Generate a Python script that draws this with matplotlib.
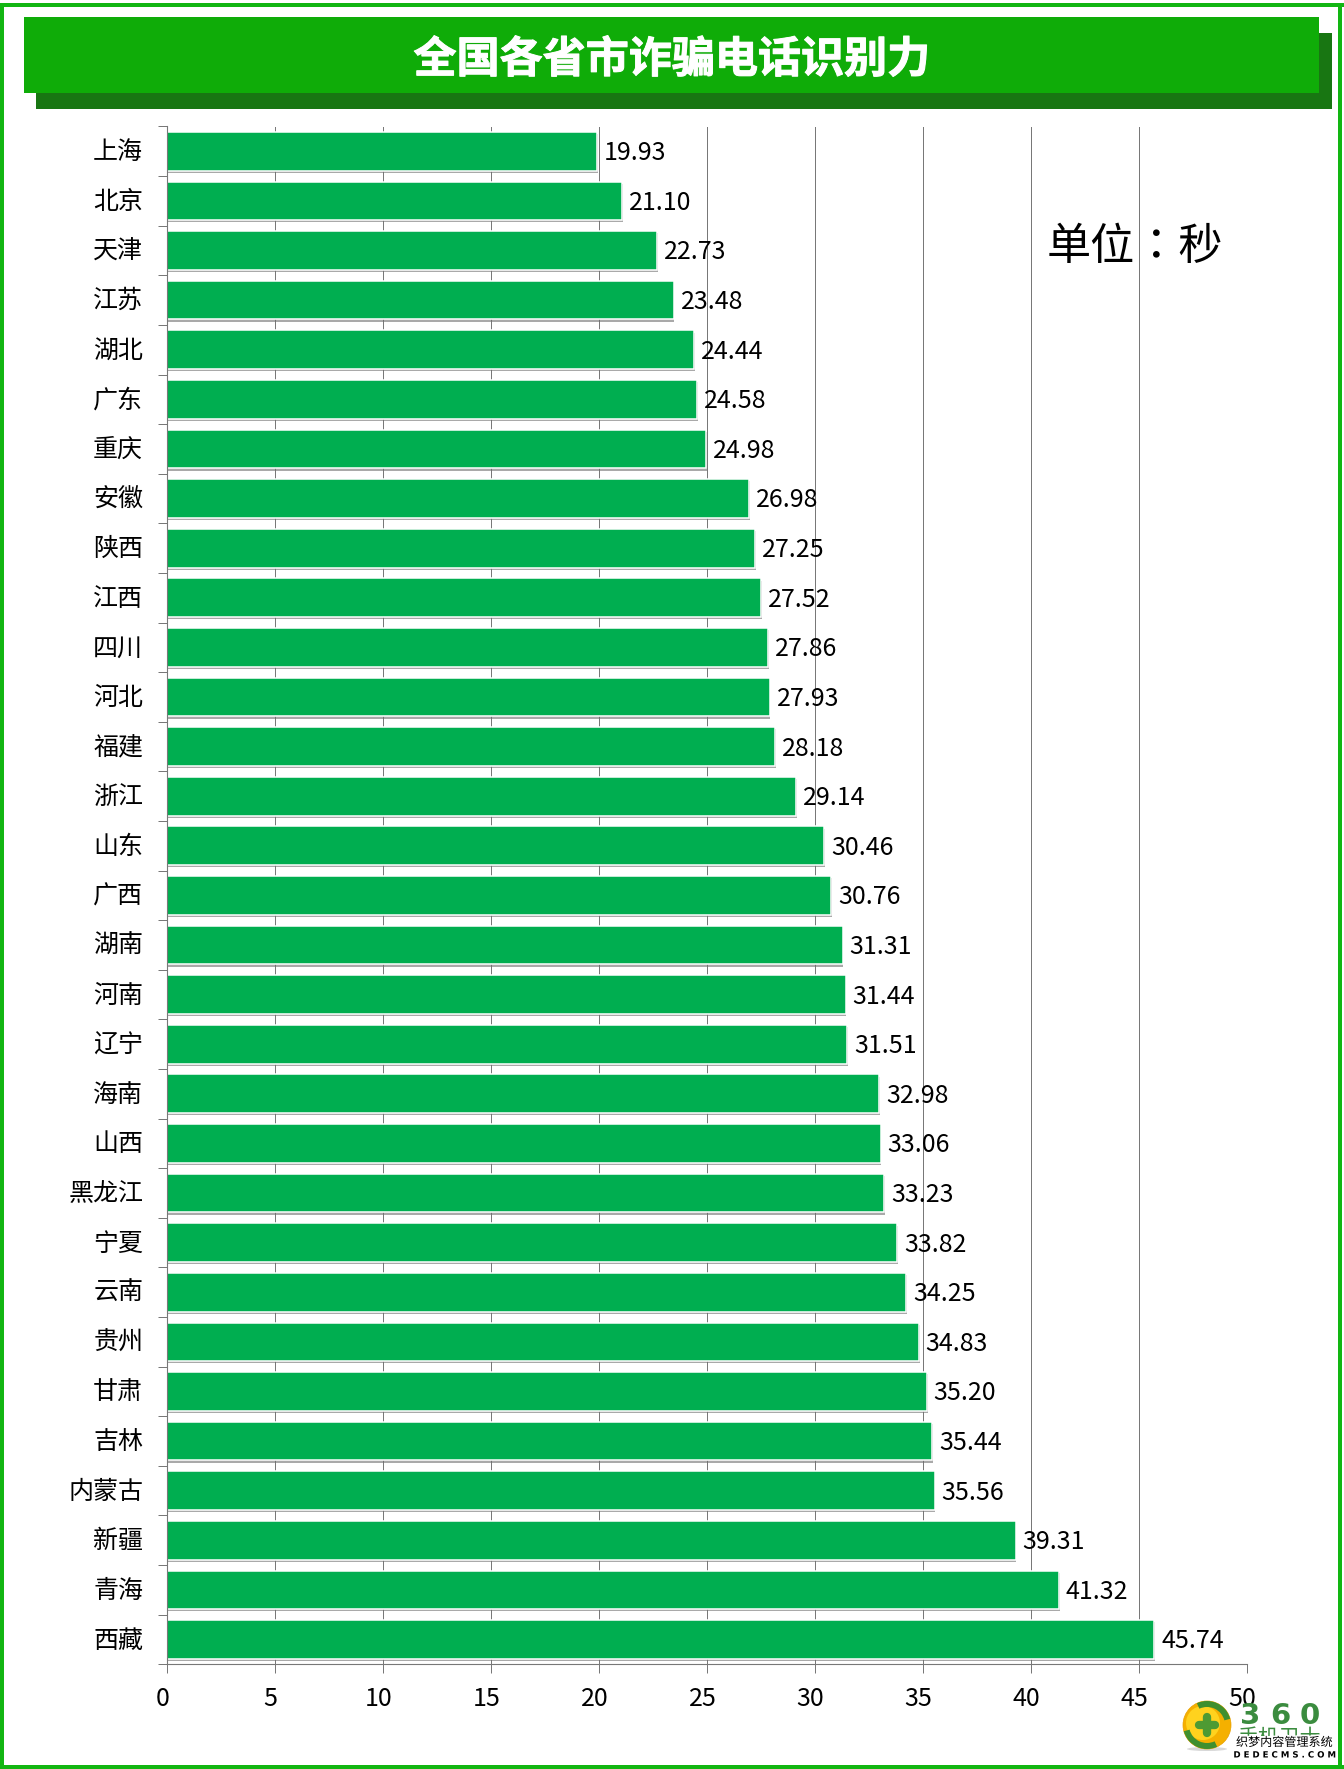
import matplotlib
matplotlib.use('Agg')
import matplotlib.pyplot as plt
import matplotlib.patheffects as pe
from matplotlib.patches import Rectangle, Circle, Wedge, Ellipse
from matplotlib.transforms import ScaledTranslation

plt.rcParams['font.family'] = ['Noto Sans CJK SC', 'DejaVu Sans']

provinces = ['上海','北京','天津','江苏','湖北','广东','重庆','安徽','陕西','江西','四川','河北','福建','浙江','山东','广西',
             '湖南','河南','辽宁','海南','山西','黑龙江','宁夏','云南','贵州','甘肃','吉林','内蒙古','新疆','青海','西藏']
seconds = [19.93,21.10,22.73,23.48,24.44,24.58,24.98,26.98,27.25,27.52,27.86,27.93,28.18,29.14,30.46,30.76,
           31.31,31.44,31.51,32.98,33.06,33.23,33.82,34.25,34.83,35.20,35.44,35.56,39.31,41.32,45.74]
x_ticks = [0,5,10,15,20,25,30,35,40,45,50]
title = '全国各省市诈骗电话识别力'
unit = '单位：秒'

W, H = 1344, 1769
fig = plt.figure(figsize=(W/100, H/100), dpi=100, facecolor='white')

# full-figure pixel overlay for decorations (y down)
bg = fig.add_axes([0,0,1,1], zorder=0)
bg.set_xlim(0,W); bg.set_ylim(H,0); bg.axis('off')
FR = '#12B612'
for r in [(0,3,W,3.5),(0,1765,W,4),(0,3,3.5,H),(1338,3,4,H)]:
    bg.add_patch(Rectangle(r[:2], r[2], r[3], fc=FR, ec='none'))
bg.add_patch(Rectangle((36,33),1295.5,76, fc='#187612', ec='none'))
bg.add_patch(Rectangle((23.7,17),1295.3,76, fc='#0FAC08', ec='none'))

# chart
GR = '#787878'
ax = fig.add_axes([166.5/W, 1-1664.3/H, 1080/W, (1664.3-126.5)/H], zorder=1)
ax.patch.set_alpha(0)
n = len(provinces)
ypos = list(range(n))
bars = ax.barh(ypos, seconds, height=0.78, color='#00AE50', edgecolor='white', linewidth=1.1, zorder=3,
               path_effects=[pe.SimplePatchShadow(offset=(0.5,-1.6), shadow_rgbFace='#707070', alpha=0.6), pe.Normal()])
ax.set_xlim(0,50); ax.set_ylim(n-0.5,-0.5)
ax.set_xticks(x_ticks); ax.set_xticklabels([str(v) for v in x_ticks], fontsize=18)
ax.xaxis.grid(True, color=GR, lw=0.72, zorder=1); ax.set_axisbelow(True)
ax.tick_params(axis='x', length=6.2, width=0.72, color=GR, pad=9.5)
off = ScaledTranslation(-4/100, 0, fig.dpi_scale_trans)
for lab in ax.get_xticklabels():
    lab.set_transform(lab.get_transform()+off)
ax.set_yticks([i-0.5 for i in range(n+1)]); ax.set_yticklabels([])
ax.tick_params(axis='y', which='major', length=6.8, width=0.72, color=GR)
ax.set_yticks(ypos, minor=True); ax.set_yticklabels(provinces, minor=True, fontsize=18)
ax.tick_params(axis='y', which='minor', length=0, pad=16.8)
off_y = ScaledTranslation(0, 2/100, fig.dpi_scale_trans)
for lab in ax.get_yticklabels(minor=True):
    lab.set_transform(lab.get_transform()+off_y)
for s in ['top','right']:
    ax.spines[s].set_visible(False)
for s in ['left','bottom']:
    ax.spines[s].set_color(GR); ax.spines[s].set_linewidth(0.8); ax.spines[s].set_zorder(5)
labels = ax.bar_label(bars, fmt='%.2f', padding=5, fontsize=18, color='black', zorder=6)
for lab in labels:
    lab.xyann = (lab.xyann[0], lab.xyann[1]-1.4)

# overlay: title, unit, logo
ov = fig.add_axes([0,0,1,1], zorder=2)
ov.set_xlim(0,W); ov.set_ylim(H,0); ov.axis('off'); ov.patch.set_alpha(0)
ov.text(671.5, 59.5, title, color='white', fontsize=31, fontweight='bold', ha='center', va='center',
        path_effects=[pe.withStroke(linewidth=0.7, foreground='white')])
ov.text(1135, 247, unit, color='black', fontsize=31.8, family=['Noto Sans CJK TC','DejaVu Sans'], ha='center', va='center')

# 360 logo
ov.add_patch(Ellipse((1207,1749),40,4, fc='#D8D8D8', ec='none'))
ov.add_patch(Circle((1207,1725),24, fc='#F5B000', ec='#E8A000', lw=0.5))
ov.add_patch(Circle((1203,1723),17, fc='#FFD21E', ec='none'))
ov.add_patch(Wedge((1207,1725),24,-115,-15, width=6, fc='#3F8F2E', ec='none'))
ov.add_patch(Wedge((1207,1725),24,65,165, width=6, fc='#3F8F2E', ec='none'))
ov.plot([1207,1207],[1717,1733], color='#4E9A33', lw=6, solid_capstyle='round')
ov.plot([1199,1215],[1725,1725], color='#4E9A33', lw=6, solid_capstyle='round')
for digit, dx in zip('360', [1250, 1280, 1310]):
    ov.text(dx, 1716, digit, color='#3B8C3F', fontsize=21, fontweight='bold', family='DejaVu Sans', ha='center', va='center')
ov.text(1280, 1738, '手机卫士', color='#3B8C3F', fontsize=15, ha='center', va='center')
ov.add_patch(Rectangle((1234,1736),101,26, fc='white', ec='none', zorder=4))
halo = [pe.withStroke(linewidth=2, foreground='white')]
ov.text(1284.5, 1742.5, '织梦内容管理系统', color='black', fontsize=8.7, ha='center', va='center', path_effects=halo, zorder=5)
ov.text(1284.5, 1755, 'D E D E C M S . C O M', color='black', fontsize=6.2, family='DejaVu Sans', fontweight='bold',
        ha='center', va='center', path_effects=halo, zorder=5)

fig.savefig('out.png', dpi=100, facecolor='white')
